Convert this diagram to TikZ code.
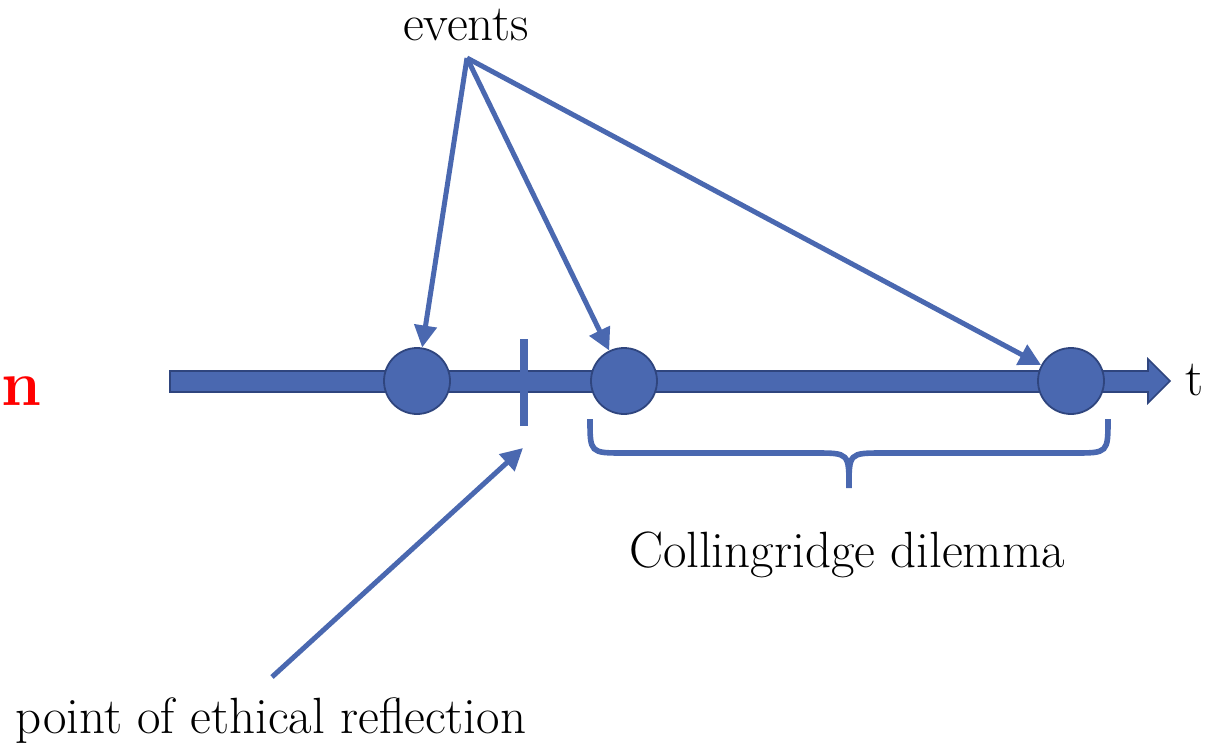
\documentclass[tikz,border=0pt]{standalone}
\usepackage{tikz}
\usetikzlibrary{arrows.meta, positioning}
\definecolor{lineBlue}{RGB}{74,104,176}
\definecolor{edgeBlue}{RGB}{47,69,126}
\definecolor{alertRed}{RGB}{255,0,0}

\begin{document}
\begin{tikzpicture}[x=0.5pt, y=-0.5pt,
    event/.style={circle, draw=edgeBlue, line width=0.9pt, fill=lineBlue, minimum size=33pt, inner sep=0pt},
    pointer/.style={lineBlue, line width=2.5pt, -{Triangle[length=11pt, width=11pt]}},
    lbltext/.style={font=\fontsize{25.5}{30}\selectfont, inner sep=0pt}]
    \useasboundingbox (0,0) rectangle (1223,745);
    % time line
    \filldraw[fill=lineBlue, draw=edgeBlue, line width=0.8pt]
        (170,371) -- (1148,371) -- (1148,359) -- (1170,381) -- (1148,403) -- (1148,392) -- (170,392) -- cycle;
    \node[lbltext, anchor=base west] (t) at (1185,395) {t};
    \node[anchor=base west, inner sep=0pt, text=alertRed, font=\fontsize{32}{36}\selectfont\bfseries] (cut) at (1,405) {n};
    % reflection mark
    \coordinate (refl) at (524,381);
    \draw[lineBlue, line width=4pt] ([yshift=-22.5pt]refl) -- ([yshift=21pt]refl);
    % events
    \foreach \name/\x in {e1/417, e2/624, e3/1071} {
        \node[event] (\name) at (\x,381) {};
    }
    \node[lbltext, anchor=base] (events) at (466,40) {events};
    \coordinate (src) at (467,58);
    \foreach \name in {e1,e2,e3} {
        \draw[pointer] (src) -- (\name);
    }
    % brace
    \draw[lineBlue, line width=2.8pt]
        (590,419) .. controls (590,453) .. (624,453) -- (815,453)
        .. controls (849,453) .. (849,488)
        .. controls (849,453) .. (883,453) -- (1074,453)
        .. controls (1108,453) .. (1108,419);
    \node[lbltext, anchor=base] (dilemma) at (847,567) {Collingridge dilemma};
    % point of reflection
    \node[lbltext, anchor=base] (point) at (271,733) {point of ethical reflection};
    \coordinate (pstart) at (272,677);
    \coordinate (ptip) at (523,448);
    \draw[pointer] (pstart) -- (ptip);
\end{tikzpicture}
\end{document}
